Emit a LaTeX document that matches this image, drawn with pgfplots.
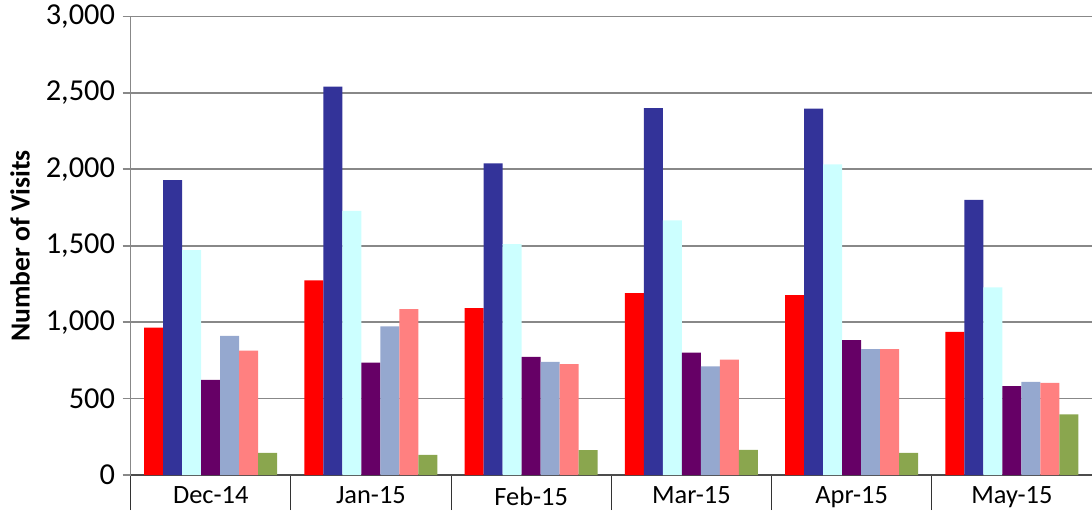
\documentclass[border=0pt]{standalone}
\usepackage{pgfplots}
\pgfplotsset{compat=1.18}
\usepackage{fontspec}
\setmainfont{Carlito}
\definecolor{cRed}{HTML}{FF0000}
\definecolor{cBlue}{HTML}{333399}
\definecolor{cCyan}{HTML}{CCFFFF}
\definecolor{cPurple}{HTML}{660066}
\definecolor{cLBlue}{HTML}{95A8CF}
\definecolor{cPink}{HTML}{FF8080}
\definecolor{cGreen}{HTML}{8AA64E}
\definecolor{gridg}{HTML}{888888}
\newcommand\yl[1]{\mbox{\fontsize{15.2}{18}\selectfont #1}}
\begin{document}
\begin{tikzpicture}
\begin{axis}[
  at={(0,0)}, anchor=south west,
  scale only axis,
  width=480.7pt, height=229.25pt,
  xmin=-0.5, xmax=5.5,
  ymin=0, ymax=3000,
  ybar=0pt, bar width=9.5pt,
  axis x line*=bottom, axis y line*=left,
  x axis line style={draw=black!70, line width=1pt, -},
  y axis line style={draw=gridg, line width=0.9pt, -},
  xtick={-0.5,0.5,...,5.5},
  x tick label as interval,
  xticklabels={Dec-14,Jan-15,Feb-15,Mar-15,Apr-15,May-15},
  xtick style={draw=black!80, line width=0.5pt, /pgfplots/major tick length=17.5pt},
  ytick={0,500,...,3000},
  yticklabels={\yl{0},\yl{500},\yl{1,000},\yl{1,500},\yl{2,000},\yl{2,500},\yl{3,000}},
  ytick style={draw=gridg, line width=0.9pt, /pgfplots/major tick length=4pt},
  tick align=outside,
  ymajorgrids, major grid style={draw=gridg, line width=0.9pt},
  scaled y ticks=false,
  xticklabel style={font=\fontsize{13.2}{15}\selectfont, text=black, yshift=1.8pt},
  yticklabel style={text=black, anchor=east},
  ylabel={\textbf{Number of Visits}},
  ylabel style={font=\fontsize{13.8}{16}\selectfont, at={(rel axis cs:0,0.5)}, anchor=center, yshift=55.3pt},
  clip=false,
]
\addplot[fill=cRed, draw=none] coordinates {(0,965) (1,1273) (2,1092) (3,1190) (4,1177) (5,937)};
\addplot[fill=cBlue, draw=none] coordinates {(0,1930) (1,2541) (2,2039) (3,2400) (4,2397) (5,1801)};
\addplot[fill=cCyan, draw=none] coordinates {(0,1472) (1,1729) (2,1511) (3,1666) (4,2033) (5,1227)};
\addplot[fill=cPurple, draw=none] coordinates {(0,622) (1,736) (2,773) (3,801) (4,882) (5,581)};
\addplot[fill=cLBlue, draw=none] coordinates {(0,910) (1,972) (2,740) (3,710) (4,823) (5,609)};
\addplot[fill=cPink, draw=none] coordinates {(0,814) (1,1085) (2,725) (3,755) (4,823) (5,603)};
\addplot[fill=cGreen, draw=none] coordinates {(0,144) (1,131) (2,162) (3,164) (4,144) (5,397)};
\end{axis}
\pgfresetboundingbox
\path (-65.3pt,-17.5pt) rectangle (480.7pt,237.5pt);
\end{tikzpicture}
\end{document}
